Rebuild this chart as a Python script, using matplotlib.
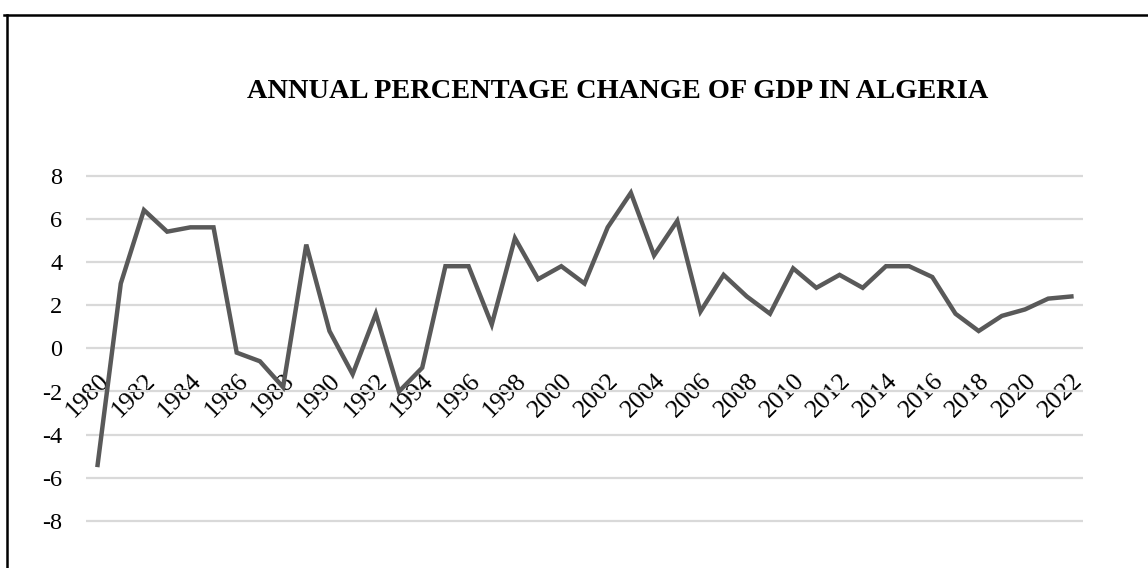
import matplotlib
matplotlib.use("Agg")
import matplotlib.pyplot as plt
from matplotlib.lines import Line2D
import numpy as np

plt.rcParams["font.family"] = ["Liberation Serif", "DejaVu Serif"]

YEARS = list(range(1980, 2023))
GDP_CHANGE = [
    -5.4, 3.0, 6.4, 5.4, 5.6, 5.6, -0.2, -0.6, -1.8, 4.8,
    0.8, -1.2, 1.6, -2.0, -0.9, 3.8, 3.8, 1.1, 5.1, 3.2,
    3.8, 3.0, 5.6, 7.2, 4.3, 5.9, 1.7, 3.4, 2.4, 1.6,
    3.7, 2.8, 3.4, 2.8, 3.8, 3.8, 3.3, 1.6, 0.8, 1.5,
    1.8, 2.3, 2.4,
]
Y_TICKS = [-8, -6, -4, -2, 0, 2, 4, 6, 8]
TITLE = "ANNUAL PERCENTAGE CHANGE OF GDP IN ALGERIA"

W, H = 1148, 568
fig = plt.figure(figsize=(W / 100, H / 100), dpi=100)
ax = fig.add_axes([86 / W, 1 - 564.3 / H, (1083 - 86) / W, (564.3 - 132.3) / H])

# category axis crosses the value axis at 0 (set before the labels, it resets ticks)
ax.spines["bottom"].set_position(("data", 0))
for s in ax.spines.values():
    s.set_color("none")

x = np.arange(len(YEARS))
ax.plot(x, GDP_CHANGE, color="#595959", linewidth=3.2, solid_joinstyle="miter", zorder=3)

ax.set_xlim(-0.5, len(YEARS) - 0.5)
ax.set_ylim(-10, 10)
ax.set_yticks(Y_TICKS)
ax.set_yticklabels([str(v) for v in Y_TICKS])
ax.grid(axis="y", color="#d9d9d9", linewidth=1.6, zorder=1)
ax.set_axisbelow(True)

ax.set_xticks(x[::2])
ax.set_xticklabels([str(y) for y in YEARS[::2]])
ax.tick_params(axis="x", length=0, pad=15, labelsize=18.5)
ax.tick_params(axis="y", length=0, pad=17, labelsize=17.5)
for lbl in ax.get_xticklabels():
    lbl.set_rotation(45)
    lbl.set_ha("right")
    lbl.set_va("top")
    lbl.set_rotation_mode("anchor")

fig.text(618 / W, 1 - 92 / H, TITLE, ha="center", va="center",
         fontsize=20.4, fontweight="bold")

# chart frame (only top and left edges are in view)
fig.add_artist(Line2D([4 / W, 1], [1 - 14.5 / H, 1 - 14.5 / H], color="black",
                      linewidth=1.8, transform=fig.transFigure))
fig.add_artist(Line2D([7 / W, 7 / W], [1 - 14.5 / H, 0], color="black",
                      linewidth=1.8, transform=fig.transFigure))

fig.savefig("out.png", dpi=100)
